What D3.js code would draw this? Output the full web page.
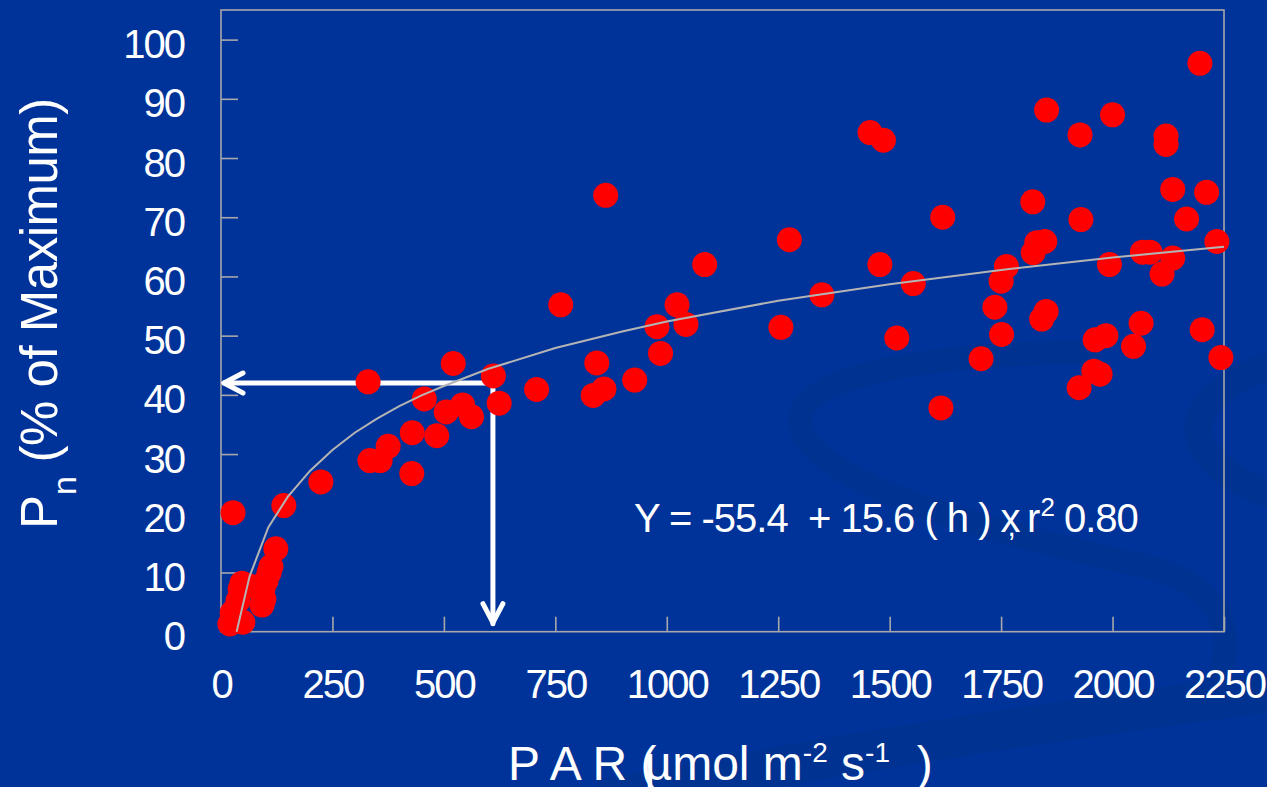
<!DOCTYPE html>
<html>
<head>
<meta charset="utf-8">
<script src="https://cdn.jsdelivr.net/npm/d3@7"></script>
<style>
  html, body { margin: 0; padding: 0; background: #003399; overflow: hidden; }
  svg { display: block; font-family: "Liberation Sans", Arial, sans-serif; }
  text { white-space: pre; }
</style>
</head>
<body>
<script>

// PAR (umol m-2 s-1) and Pn (% of maximum)
var parValues = [20, 25, 49, 38, 43, 47, 65, 92, 96, 94, 101, 108, 112, 123, 27, 141,
  224, 330, 521, 611, 708, 456, 505, 542, 562, 624, 429, 484, 375, 334, 357, 428,
  863, 1275, 1085, 1478, 762, 1023, 1348, 978, 1043, 1256, 1516, 986, 843, 835, 859, 928,
  1852, 2000, 1927, 2120, 2120, 1456, 1486, 2135, 2211, 2166, 1821, 1929, 1619, 2234,
  1848, 1830, 1822, 2067, 2084, 2135, 1993, 2111, 1762, 1750, 1553, 1736, 1851, 1841,
  1751, 1705, 2064, 1985, 1961, 2047, 2201, 2243, 1958, 1972, 1925, 1615, 2196];
var pnValues = [1.3, 3.2, 1.6, 5.2, 7.2, 8.2, 7.7, 4.5, 5.5, 7.2, 8.6, 10, 11, 14, 20.1, 21.3,
  25.3, 42.2, 45.3, 43.2, 40.9, 39.3, 37.1, 38.3, 36.3, 38.6, 33.6, 33.1, 31.3, 28.9, 28.9, 26.7,
  73.7, 66.2, 62, 62, 55.2, 55.2, 56.9, 51.5, 51.9, 51.4, 49.6, 47, 45.4, 39.9, 41, 42.5,
  88.1, 87.3, 83.9, 83.7, 82.3, 84.3, 83, 74.7, 74.2, 69.7, 72.6, 69.6, 70, 65.9,
  65.9, 65.7, 64, 64.1, 64.1, 63.1, 62, 60.4, 61.7, 59.2, 58.8, 54.8, 54.1, 52.8,
  50.2, 46.1, 52.1, 50, 49.3, 48.2, 51, 46.3, 44, 43.5, 41.2, 37.8, 96];

// fitted curve as drawn (grey line)
var fitPar = [35, 64, 106, 150, 200, 250, 300, 350, 400, 450, 500, 600, 750, 900, 1000, 1250, 1500, 1750, 2000, 2250];
var fitPn = [0, 9.3, 17.6, 22.8, 27.2, 30.7, 33.6, 36, 38.1, 39.9, 41.5, 44.4, 47.9, 50.7, 52.4, 55.9, 58.7, 61.1, 63.2, 65];

var xTicks = [0, 250, 500, 750, 1000, 1250, 1500, 1750, 2000, 2250];
var yTicks = [0, 10, 20, 30, 40, 50, 60, 70, 80, 90, 100];

// reading arrows
var readPar = 610, readPn = 42;

var width = 1267, height = 787;
var margin = {top: 10, right: 43, bottom: 156, left: 221};
var lineGrey = "#a8a8a8";

var svg = d3.select("body").append("svg")
    .attr("width", width)
    .attr("height", height);

svg.append("rect").attr("width", width).attr("height", height).attr("fill", "#003399");

// faint background swooshes
var deco = svg.append("g").attr("fill", "none").attr("stroke", "#003292");
deco.append("path")
    .attr("stroke-width", 24)
    .attr("d", "M1100,352 C950,352 800,372 800,420 C800,480 980,530 1140,565 C1230,585 1240,640 1210,700");
deco.append("path")
    .attr("stroke-width", 28)
    .attr("d", "M1290,360 C1230,375 1190,405 1200,440 C1210,470 1250,490 1290,500");
deco.append("path")
    .attr("stroke-width", 40)
    .attr("d", "M600,800 C800,760 1050,720 1290,690");

var x = d3.scaleLinear().domain([0, 2250]).range([margin.left, width - margin.right]);
var y = d3.scaleLinear().domain([0, 105]).range([height - margin.bottom + 0.7, margin.top]);

// plot frame
svg.append("rect")
    .attr("x", x(0)).attr("y", y(105))
    .attr("width", x(2250) - x(0)).attr("height", y(0) - y(105))
    .attr("fill", "none").attr("stroke", lineGrey).attr("stroke-width", 1.6);

var yAxis = svg.append("g")
    .attr("transform", "translate(" + x(0) + ",0)")
    .call(d3.axisLeft(y).tickValues(yTicks).tickSizeInner(-17).tickSizeOuter(0).tickPadding(37));
var xAxis = svg.append("g")
    .attr("transform", "translate(0," + y(0) + ")")
    .call(d3.axisBottom(x).tickValues(xTicks).tickFormat(d3.format("d"))
      .tickSizeInner(-15).tickSizeOuter(0).tickPadding(38));

[xAxis, yAxis].forEach(function(g) {
  g.select(".domain").remove();
  g.selectAll(".tick line").attr("stroke", lineGrey).attr("stroke-width", 1.6);
  g.selectAll(".tick text")
      .attr("fill", "#fff")
      .attr("font-size", 40)
      .attr("letter-spacing", -2)
      .attr("font-family", "'Liberation Sans', Arial, sans-serif");
});
yAxis.selectAll(".tick text").attr("dy", "0.45em");

// arrows
var arrows = svg.append("g")
    .attr("fill", "none").attr("stroke", "#fff")
    .attr("stroke-width", 5).attr("stroke-linecap", "round").attr("stroke-linejoin", "round");
arrows.append("path")
    .attr("d", "M" + x(readPar) + "," + y(readPn) + "H" + (x(0) + 3));
arrows.append("path")
    .attr("d", "M" + x(readPar) + "," + y(readPn) + "V" + (y(0) - 8));
arrows.append("path")
    .attr("d", "M" + (x(0) + 22) + "," + (y(readPn) - 10) + "L" + (x(0) + 3) + "," + y(readPn) + "L" + (x(0) + 22) + "," + (y(readPn) + 10));
arrows.append("path")
    .attr("d", "M" + (x(readPar) - 10) + "," + (y(0) - 28) + "L" + x(readPar) + "," + (y(0) - 9) + "L" + (x(readPar) + 10) + "," + (y(0) - 28));

// data points
var points = parValues.map(function(p, i) { return {par: p, pn: pnValues[i]}; });
svg.selectAll(".dot")
    .data(points)
    .enter().append("circle")
    .attr("class", "dot")
    .attr("cx", function(d) { return x(d.par); })
    .attr("cy", function(d) { return y(d.pn); })
    .attr("r", 12.5)
    .attr("fill", "#ff0000");

// fitted curve
var fit = fitPar.map(function(p, i) { return [p, fitPn[i]]; });
svg.append("path")
    .datum(fit)
    .attr("fill", "none")
    .attr("stroke", "#b4b4b4")
    .attr("stroke-width", 2)
    .attr("d", d3.line().x(function(d) { return x(d[0]); }).y(function(d) { return y(d[1]); }));

// equation
var eq = svg.append("text")
    .attr("x", 634).attr("y", 532)
    .attr("fill", "#fff").attr("font-size", 40).attr("letter-spacing", -1);
eq.append("tspan").text("Y = -55.4  + 15.6 ( h ) x");
eq.append("tspan").attr("dx", -12).attr("dy", 4).attr("font-size", 30).text(",");
eq.append("tspan").attr("dy", -4).attr("dx", 2).text(" r");
eq.append("tspan").attr("dy", -16).attr("dx", 1).attr("font-size", 26).text("2");
eq.append("tspan").attr("dy", 16).text(" 0.80");

// y title
var yt = svg.append("text")
    .attr("transform", "translate(57,529) rotate(-90)")
    .attr("fill", "#fff").attr("font-size", 51);
yt.append("tspan").text("P");
yt.append("tspan").attr("dy", 19).attr("font-size", 34).text("n");
yt.append("tspan").attr("dy", -19).attr("letter-spacing", -0.5).text(" (% of Maximum)");

// x title
var xt = svg.append("text")
    .attr("x", 508).attr("y", 780)
    .attr("fill", "#fff").attr("font-size", 48);
xt.append("tspan").text("P A R (");
xt.append("tspan").attr("dx", -12).text("µmol m");
xt.append("tspan").attr("dy", -18).attr("font-size", 28).text("-2");
xt.append("tspan").attr("dy", 18).text(" s");
xt.append("tspan").attr("dy", -18).attr("font-size", 28).text("-1");
xt.append("tspan").attr("dy", 18).text("  )");

</script>
</body>
</html>
